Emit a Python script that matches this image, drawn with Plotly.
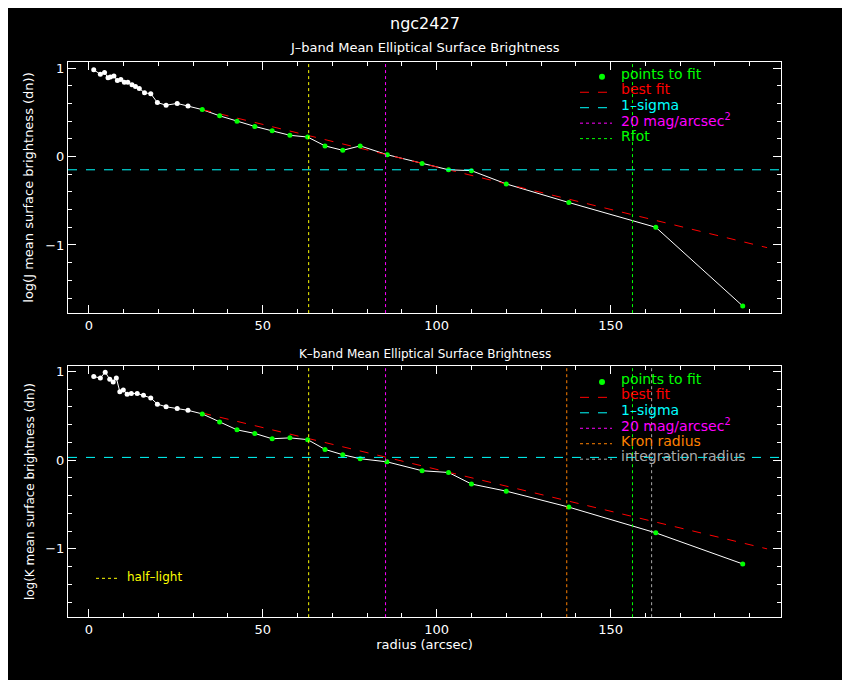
import plotly.graph_objects as go

# J band
j_r_all = [1.4, 3.3, 4.5, 5.5, 6.2, 7.2, 8.2, 9.2, 10.2, 11.2, 12.4, 13.4, 14.5, 16.0, 17.8, 19.7, 22.2, 25.4, 28.5]
j_v_all = [0.98, 0.93, 0.95, 0.89, 0.90, 0.91, 0.86, 0.87, 0.84, 0.84, 0.81, 0.79, 0.77, 0.72, 0.71, 0.61, 0.58, 0.60, 0.57]
j_r_fit = [32.6, 37.6, 42.6, 47.7, 52.7, 57.8, 62.9, 67.9, 73.0, 78.0, 85.8, 95.8, 103.4, 110.0, 120.0, 138.0, 163.0, 188.0]
j_v_fit = [0.53, 0.46, 0.40, 0.34, 0.29, 0.24, 0.22, 0.12, 0.07, 0.12, 0.02, -0.08, -0.15, -0.16, -0.31, -0.52, -0.80, -1.69]
j_bestfit_r = [32.6, 195]
j_bestfit_v = [0.53, -1.03]
j_sigma = -0.15

# K band
k_r_all = [1.4, 3.3, 4.7, 6.0, 7.0, 7.9, 8.9, 9.9, 11.0, 12.2, 13.9, 15.7, 17.8, 19.7, 22.2, 25.4, 28.5]
k_v_all = [0.94, 0.925, 0.99, 0.91, 0.88, 0.925, 0.77, 0.79, 0.74, 0.75, 0.75, 0.73, 0.70, 0.63, 0.60, 0.58, 0.56]
k_r_fit = [32.6, 37.6, 42.6, 47.7, 52.7, 57.8, 62.9, 67.9, 73.0, 78.0, 85.7, 95.8, 103.4, 110.0, 120.0, 138.0, 163.0, 188.0]
k_v_fit = [0.52, 0.43, 0.34, 0.30, 0.24, 0.25, 0.23, 0.12, 0.06, 0.015, -0.02, -0.12, -0.14, -0.27, -0.35, -0.53, -0.82, -1.17]
k_bestfit_r = [32.6, 195]
k_bestfit_v = [0.53, -1.00]
k_sigma = 0.03

half_light = 63.2
mag20 = 85.3
rfot = 156.3
kron = 137.4
integ = 161.8

F = "DejaVu Sans"
OX, OY = 8, 8  # page body offset
fig = go.Figure()

def panel(xa, ya, ra, va, rf, vf, bfr, bfv, sig):
    fig.add_trace(go.Scatter(x=ra + rf, y=va + vf, mode="lines", line=dict(color="white", width=1), xaxis=xa, yaxis=ya, showlegend=False))
    fig.add_trace(go.Scatter(x=ra, y=va, mode="markers", marker=dict(color="white", size=5), xaxis=xa, yaxis=ya, showlegend=False))
    fig.add_trace(go.Scatter(x=bfr, y=bfv, mode="lines", line=dict(color="red", width=1, dash="dash"), xaxis=xa, yaxis=ya, showlegend=False))
    fig.add_trace(go.Scatter(x=rf, y=vf, mode="markers", marker=dict(color="#00ff00", size=5), xaxis=xa, yaxis=ya, showlegend=False))
    fig.add_trace(go.Scatter(x=[-6, 199], y=[sig, sig], mode="lines", line=dict(color="cyan", width=1, dash="dash"), xaxis=xa, yaxis=ya, showlegend=False))

panel("x", "y", j_r_all, j_v_all, j_r_fit, j_v_fit, j_bestfit_r, j_bestfit_v, j_sigma)
panel("x2", "y2", k_r_all, k_v_all, k_r_fit, k_v_fit, k_bestfit_r, k_bestfit_v, k_sigma)

def vline(xa, ya, x, color):
    fig.add_shape(type="line", xref=xa, yref=ya + " domain", x0=x, x1=x, y0=0, y1=1, line=dict(color=color, width=1, dash="dot"))

for v, c in [(half_light, "yellow"), (mag20, "magenta"), (rfot, "#00ff00")]:
    vline("x", "y", v, c)
for v, c in [(half_light, "yellow"), (mag20, "magenta"), (kron, "#ff8000"), (rfot, "#00ff00"), (integ, "#aaaaaa")]:
    vline("x2", "y2", v, c)

def px(x):
    return (x - OX) / 850

def py(y):
    return 1 - (y - OY) / 680

axcommon = dict(showgrid=False, zeroline=False, showline=True, linecolor="white", linewidth=1, mirror="allticks",
                ticks="inside", ticklen=8, tickcolor="white", tickfont=dict(color="white", size=13, family=F))
xminor = dict(ticks="inside", ticklen=4, tickcolor="white", dtick=10)
yminor = dict(ticks="inside", ticklen=4, tickcolor="white", dtick=0.2)
fig.update_layout(
    width=850, height=680, paper_bgcolor="black", plot_bgcolor="black",
    margin=dict(l=0, r=0, t=0, b=0), showlegend=False,
    xaxis=dict(axcommon, domain=[px(68), px(781)], range=[-6, 199], dtick=50, minor=xminor, anchor="y"),
    yaxis=dict(axcommon, domain=[py(312), py(60)], range=[-1.77, 1.07], dtick=1, minor=yminor, anchor="x",
               title=dict(text="log(J mean surface brightness (dn))", font=dict(color="white", size=13, family=F), standoff=8)),
    xaxis2=dict(axcommon, domain=[px(68), px(781)], range=[-6, 199], dtick=50, minor=xminor, anchor="y2",
                title=dict(text="radius (arcsec)", font=dict(color="white", size=13, family=F), standoff=4)),
    yaxis2=dict(axcommon, domain=[py(617), py(365)], range=[-1.77, 1.06], dtick=1, minor=yminor, anchor="x2",
                title=dict(text="log(K mean surface brightness (dn))", font=dict(color="white", size=12, family=F), standoff=8)),
)

def txt(x, y, s, color, size=13, xanchor="center"):
    fig.add_annotation(xref="paper", yref="paper", x=px(x), y=py(y), text=s, showarrow=False,
                       font=dict(color=color, size=size, family=F), xanchor=xanchor, yanchor="middle")

txt(425, 22, "ngc2427", "white", 16)
txt(425, 46, "J\u2013band Mean Elliptical Surface Brightness", "white", 13)
txt(425, 353, "K\u2013band Mean Elliptical Surface Brightness", "white", 12)

def legend(y0, items):
    for i, (lab, col, kind) in enumerate(items):
        y = y0 + i * 15.5
        txt(619, y, lab, col, 14, "left")
        yy = py(y + 3)
        if kind == "marker":
            fig.add_shape(type="circle", xref="paper", yref="paper", x0=px(599), x1=px(605),
                          y0=yy - 3 / 680, y1=yy + 3 / 680, fillcolor="#00ff00", line=dict(color="#00ff00", width=0))
        else:
            fig.add_shape(type="line", xref="paper", yref="paper", x0=px(580), x1=px(612), y0=yy, y1=yy,
                          line=dict(color=col, width=1, dash=kind))

legend(72, [("points to fit", "#00ff00", "marker"), ("best fit", "red", "dash"), ("1\u2013sigma", "cyan", "dash"),
            ("20 mag/arcsec<sup>2</sup>", "magenta", "dot"), ("Rfot", "#00ff00", "dot")])
legend(378, [("points to fit", "#00ff00", "marker"), ("best fit", "red", "dash"), ("1\u2013sigma", "cyan", "dash"),
             ("20 mag/arcsec<sup>2</sup>", "magenta", "dot"), ("Kron radius", "#ff8000", "dot"), ("integration radius", "#aaaaaa", "dot")])

fig.add_shape(type="line", xref="paper", yref="paper", x0=px(96), x1=px(118), y0=py(578), y1=py(578),
              line=dict(color="yellow", width=1, dash="dot"))
txt(125, 577, "half\u2013light", "yellow", 12, "left")

fig.write_html("out.html")
